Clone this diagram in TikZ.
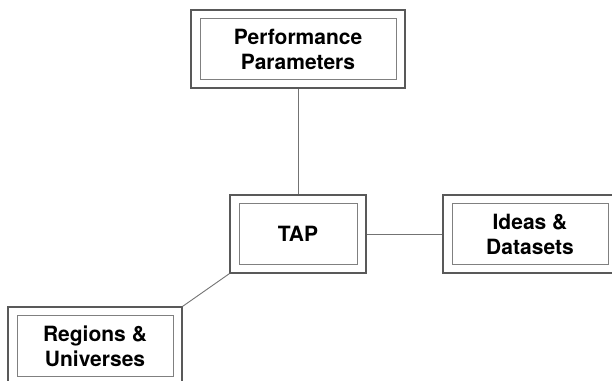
\documentclass[tikz,border=0pt]{standalone}
\usepackage{fontspec}
\setmainfont{TeX Gyre Heros}
\usepackage{tikz}
\usetikzlibrary{positioning,calc}
\tikzset{
  panel/.style={draw=black!65, line width=1.3pt, minimum width=#1, minimum height=78pt,
    inner sep=0pt, align=center, font=\fontsize{21}{25}\selectfont\bfseries,
    path picture={\draw[black!50, line width=0.9pt]
      ([shift={(9pt,-8.5pt)}]path picture bounding box.north west) rectangle
      ([shift={(-9pt,8.5pt)}]path picture bounding box.south east);}},
  link/.style={draw=black!55, line width=0.9pt}
}
\begin{document}
\begin{tikzpicture}[x=1pt,y=1pt]
      \useasboundingbox (0,0) rectangle (612,-380);
      \node[panel=214pt] at (298,-49) (perf) {Performance\\Parameters};
      \node[panel=136pt] at (298,-234) (tap) {TAP};
      \node[panel=174pt] at (530,-234) (ideas) {Ideas \&\\Datasets};
      \node[panel=174pt] at (95,-346) (regions) {Regions \&\\Universes};
      \draw[link] (perf)--(tap);
      \draw[link] (tap)--(ideas);
      \draw[link] (tap.south west)--(regions.north east);
    \end{tikzpicture}
\end{document}
